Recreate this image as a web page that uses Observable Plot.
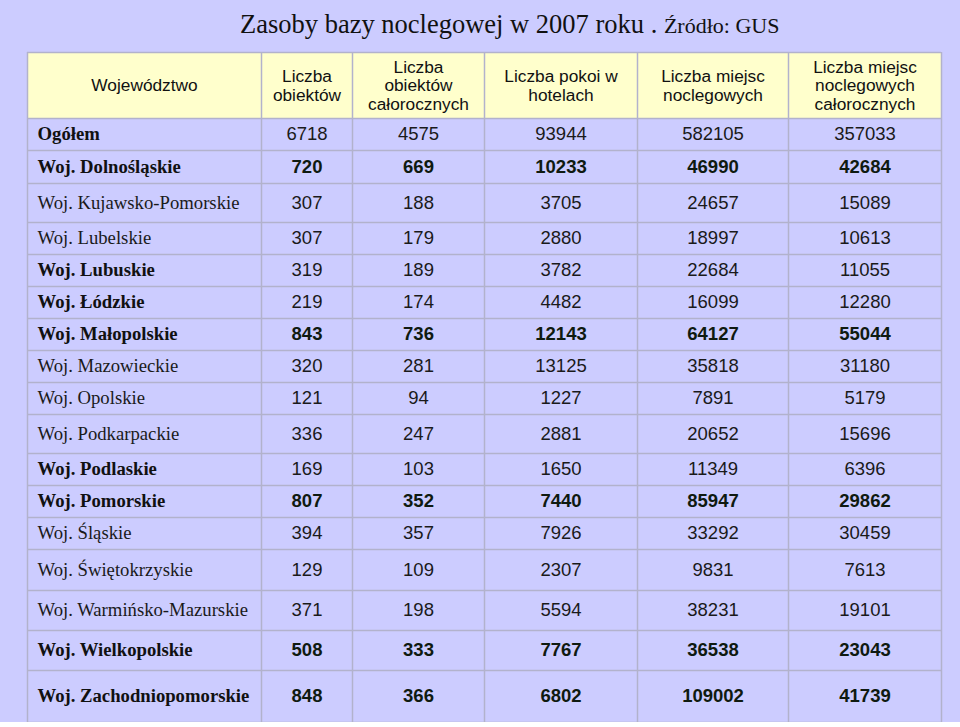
<!DOCTYPE html>
<html>
<head>
<meta charset="utf-8">
<script src="https://cdn.jsdelivr.net/npm/d3@7"></script>
<script src="https://cdn.jsdelivr.net/npm/@observablehq/plot@0.6"></script>
<style>
  html, body { margin: 0; padding: 0; background: #ffffff; }
  #page { width: 960px; height: 722px; background: #ccccff; overflow: hidden; }
  #title { box-sizing: border-box; height: 48px; padding-top: 11px; padding-left: 240px;
           font-family: "Liberation Serif", "Times New Roman", serif; font-size: 26.5px; line-height: 26px;
           color: #111; white-space: nowrap; }
  #title .src { font-size: 22px; line-height: 22px; }
  #chart svg { display: block; }
</style>
</head>
<body>
<div id="page">
  <div id="title">Zasoby bazy noclegowej w 2007 roku . <span class="src">Źródło: GUS</span></div>
  <div id="chart"></div>
</div>
<script>
// ---- data ----
const headers = [
  "Województwo",
  "Liczba\nobiektów",
  "Liczba\nobiektów\ncałorocznych",
  "Liczba pokoi w\nhotelach",
  "Liczba miejsc\nnoclegowych",
  "Liczba miejsc\nnoclegowych\ncałorocznych"
];
const regions = [
  "Ogółem", "Woj. Dolnośląskie", "Woj. Kujawsko-Pomorskie", "Woj. Lubelskie", "Woj. Lubuskie",
  "Woj. Łódzkie", "Woj. Małopolskie", "Woj. Mazowieckie", "Woj. Opolskie", "Woj. Podkarpackie",
  "Woj. Podlaskie", "Woj. Pomorskie", "Woj. Śląskie", "Woj. Świętokrzyskie",
  "Woj. Warmińsko-Mazurskie", "Woj. Wielkopolskie", "Woj. Zachodniopomorskie"
];
const obiekty     = [6718, 720, 307, 307, 319, 219, 843, 320, 121, 336, 169, 807, 394, 129, 371, 508, 848];
const obiektyCal  = [4575, 669, 188, 179, 189, 174, 736, 281, 94, 247, 103, 352, 357, 109, 198, 333, 366];
const pokoje      = [93944, 10233, 3705, 2880, 3782, 4482, 12143, 13125, 1227, 2881, 1650, 7440, 7926, 2307, 5594, 7767, 6802];
const miejsca     = [582105, 46990, 24657, 18997, 22684, 16099, 64127, 35818, 7891, 20652, 11349, 85947, 33292, 9831, 38231, 36538, 109002];
const miejscaCal  = [357033, 42684, 15089, 10613, 11055, 12280, 55044, 31180, 5179, 15696, 6396, 29862, 30459, 7613, 19101, 23043, 41739];

// ---- styling (which rows are bold) ----
const boldLabel = new Set(["Ogółem", "Woj. Dolnośląskie", "Woj. Lubuskie", "Woj. Łódzkie", "Woj. Małopolskie",
  "Woj. Podlaskie", "Woj. Pomorskie", "Woj. Wielkopolskie", "Woj. Zachodniopomorskie"]);
const boldNums = new Set(["Woj. Dolnośląskie", "Woj. Małopolskie", "Woj. Pomorskie",
  "Woj. Wielkopolskie", "Woj. Zachodniopomorskie"]);

// ---- layout (relative column widths and row heights of the table) ----
const colWidths = [234, 91, 132, 153, 151, 153];
const rowHeights = [66, 32, 33, 39, 32, 32, 32, 32, 32, 32, 39, 32, 32, 32, 41, 40, 40, 52];

const colEdges = [0]; colWidths.forEach(w => colEdges.push(colEdges[colEdges.length - 1] + w));
const rowEdges = [0]; rowHeights.forEach(h => rowEdges.push(rowEdges[rowEdges.length - 1] + h));
const totalW = colEdges[colEdges.length - 1];
const totalH = rowEdges[rowEdges.length - 1];

const series = [obiekty, obiektyCal, pokoje, miejsca, miejscaCal];

// build tables
const headerCells = headers.map((h, c) => ({
  text: h, x1: colEdges[c], x2: colEdges[c + 1], y1: rowEdges[0], y2: rowEdges[1],
  xc: (colEdges[c] + colEdges[c + 1]) / 2, yc: (rowEdges[0] + rowEdges[1]) / 2
}));
const labelCells = regions.map((r, i) => ({
  text: r, bold: boldLabel.has(r),
  x: colEdges[0], yc: (rowEdges[i + 1] + rowEdges[i + 2]) / 2
}));
const numCells = [];
regions.forEach((r, i) => {
  series.forEach((s, k) => {
    const c = k + 1;
    numCells.push({
      text: String(s[i]), bold: boldNums.has(r),
      xc: (colEdges[c] + colEdges[c + 1]) / 2, yc: (rowEdges[i + 1] + rowEdges[i + 2]) / 2
    });
  });
});

const gridColor = "#b2b2cc";
const serif = "Liberation Serif, Times New Roman, serif";
const sans = "Liberation Sans, Arial, sans-serif";

const chart = Plot.plot({
  width: 960,
  height: 674,
  marginTop: 0, marginRight: 0, marginBottom: 0, marginLeft: 0,
  style: { background: "transparent", overflow: "visible" },
  x: { domain: [0, totalW], range: [27, 941], axis: null },
  y: { domain: [0, totalH], range: [4, 674], axis: null },
  marks: [
    Plot.rect(headerCells, { x1: "x1", x2: "x2", y1: "y1", y2: "y2", fill: "#ffffcc" }),
    Plot.ruleX(colEdges, { y1: 0, y2: totalH, stroke: gridColor, strokeWidth: 1.5 }),
    Plot.ruleY(rowEdges, { x1: 0, x2: totalW, stroke: gridColor, strokeWidth: 1.5 }),
    Plot.text(headerCells, { x: "xc", y: "yc", text: "text", fontFamily: sans, fontSize: 17.3,
      lineHeight: 1.08, fill: "#111", textAnchor: "middle" }),
    Plot.text(labelCells.filter(d => d.bold), { x: "x", y: "yc", text: "text", dx: 10, textAnchor: "start",
      fontFamily: serif, fontSize: 18.7, fontWeight: "bold", fill: "#111" }),
    Plot.text(labelCells.filter(d => !d.bold), { x: "x", y: "yc", text: "text", dx: 10, textAnchor: "start",
      fontFamily: serif, fontSize: 18.7, fill: "#1a1a1a" }),
    Plot.text(numCells.filter(d => d.bold), { x: "xc", y: "yc", text: "text", textAnchor: "middle",
      fontFamily: sans, fontSize: 18.5, fontWeight: "bold", fill: "#0f1a10" }),
    Plot.text(numCells.filter(d => !d.bold), { x: "xc", y: "yc", text: "text", textAnchor: "middle",
      fontFamily: sans, fontSize: 18.5, fill: "#1a1a1a" })
  ]
});
document.getElementById("chart").appendChild(chart);
</script>
</body>
</html>
